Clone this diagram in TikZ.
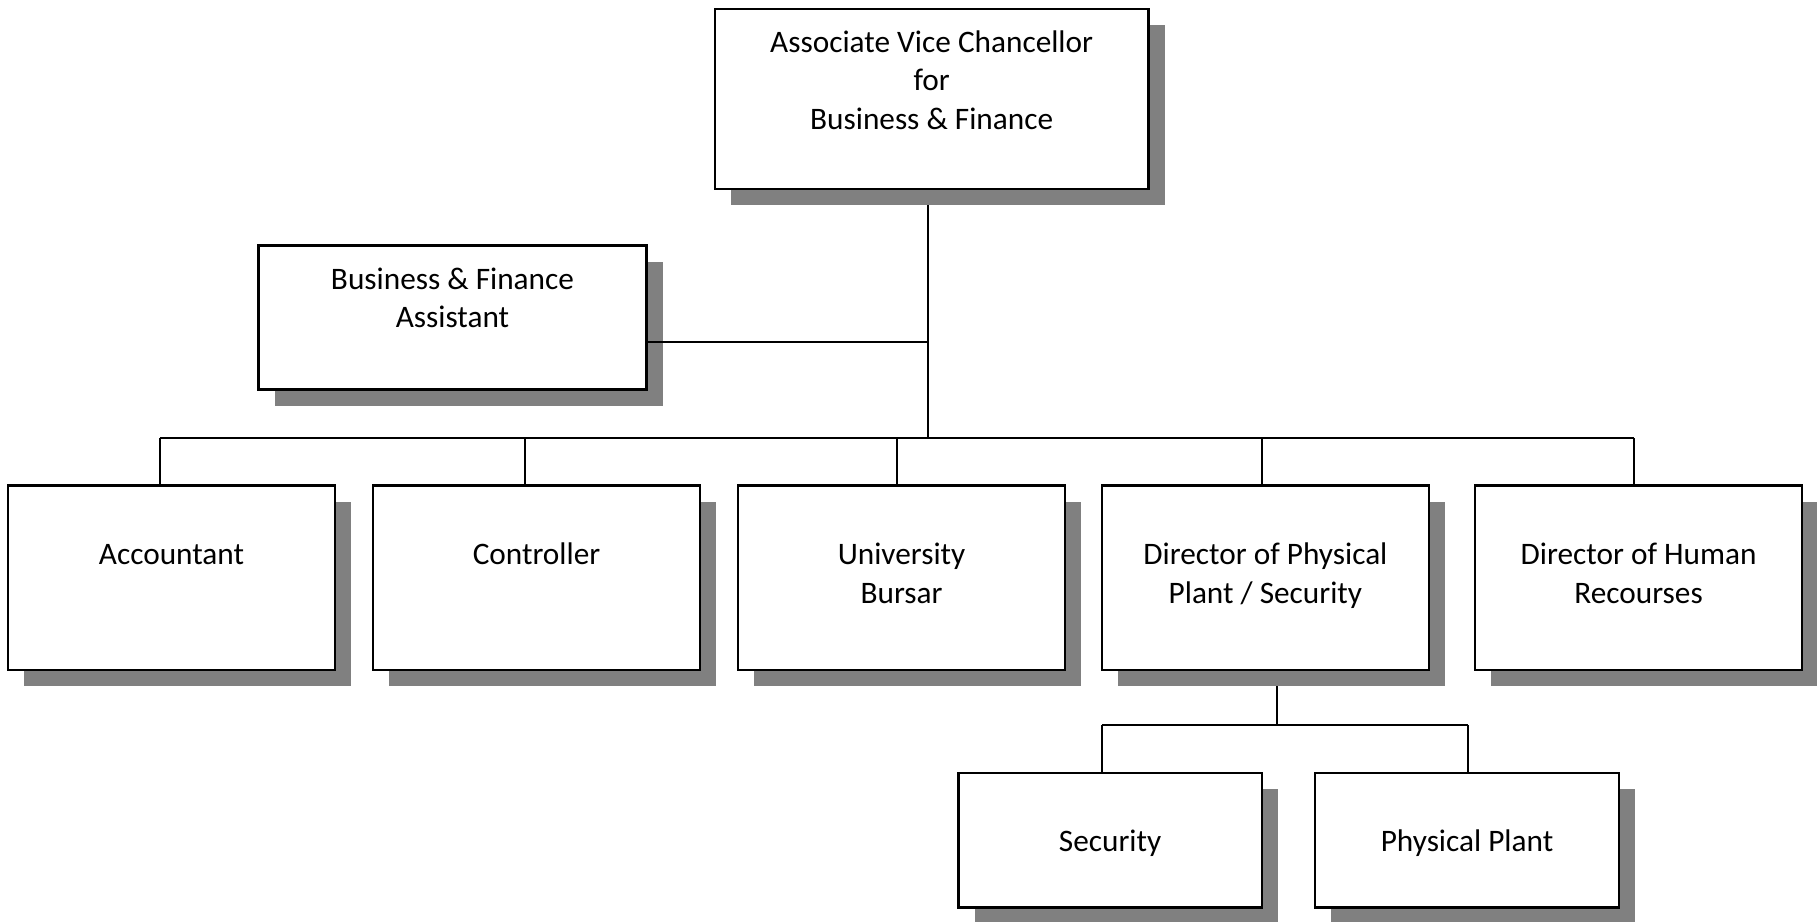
\documentclass[tikz,border=0pt]{standalone}
\usepackage{fontspec}
\setmainfont{Carlito}
\usetikzlibrary{shadows,calc}
\definecolor{shadowgray}{HTML}{808080}
\tikzset{
  box/.style={draw=black, line width=1pt, fill=white, inner sep=0pt,
    drop shadow={opacity=1, fill=shadowgray, shadow xshift=7pt, shadow yshift=-7pt}},
  txt/.style={align=center, inner sep=0pt, anchor=north,
    font=\fontsize{13.5}{16.5}\selectfont},
  conn/.style={draw=black, line width=0.8pt}
}
\begin{document}
\begin{tikzpicture}[x=0.5pt, y=-0.5pt]
\useasboundingbox (0,0) rectangle (1568,795);
\coordinate (vtop) at (801,165);
\coordinate (vmid) at (801,295);
\coordinate (busC) at (801,378);
\coordinate (busL) at (138,378);
\coordinate (busR) at (1410,378);
\coordinate (subT) at (1102,580);
\coordinate (subC) at (1102,626);
\coordinate (subL) at (951,626);
\coordinate (subR) at (1267,626);
% connectors drawn first (shadows cover their ends)
\draw[conn] (vtop) -- (busC);
\draw[conn] (busL) -- (busR);
\draw[conn] (subT) -- (subC);
\draw[conn] (subL) -- (subR);
% boxes
\node[box, minimum width=187pt, minimum height=77.5pt] (avc) at (804,85.5) {};
\node[box, minimum width=167.5pt, minimum height=62pt] (asst) at (390.5,274) {};
\node[box, minimum width=141pt, minimum height=79.5pt] (acc) at (148,498.5) {};
\node[box, minimum width=141pt, minimum height=79.5pt] (ctl) at (463,498.5) {};
\node[box, minimum width=141pt, minimum height=79.5pt] (bur) at (778,498.5) {};
\node[box, minimum width=141pt, minimum height=79.5pt] (dpp) at (1092,498.5) {};
\node[box, minimum width=141pt, minimum height=79.5pt] (dhr) at (1414,498.5) {};
\node[box, minimum width=131pt, minimum height=58pt] (sec) at (958,725) {};
\node[box, minimum width=131pt, minimum height=58pt] (pp) at (1266,725) {};
% connector lines to boxes
\draw[conn] (asst.east |- vmid) -- (vmid);
\draw[conn] (busL) -- (acc.north -| busL);
\draw[conn] ($(ctl.north)+(-10,0)$) coordinate (c2) -- (c2 |- busC);
\draw[conn] ($(bur.north)+(-4,0)$) coordinate (c3) -- (c3 |- busC);
\draw[conn] ($(dpp.north)+(-3,0)$) coordinate (c4) -- (c4 |- busC);
\draw[conn] (busR) -- (dhr.north -| busR);
\draw[conn] (subL) -- (sec.north -| subL);
\draw[conn] (subR) -- (pp.north -| subR);
% texts
\node[txt] (tavc) at ($(avc.north)+(0,15)$) {\strut Associate Vice Chancellor\\for\\Business \& Finance};
\node[txt] (tasst) at ($(asst.north)+(0,15)$) {\strut Business \& Finance\\Assistant};
\node[txt] (tacc) at ($(acc.north)+(0,46)$) {\strut Accountant};
\node[txt] (tctl) at ($(ctl.north)+(0,46)$) {\strut Controller};
\node[txt] (tbur) at ($(bur.north)+(0,46)$) {\strut University\\Bursar};
\node[txt] (tdpp) at ($(dpp.north)+(0,46)$) {\strut Director of Physical\\Plant / Security};
\node[txt] (tdhr) at ($(dhr.north)+(0,46)$) {\strut Director of Human\\Recourses};
\node[txt] (tsec) at ($(sec.north)+(0,45)$) {\strut Security};
\node[txt] (tpp) at ($(pp.north)+(0,45)$) {\strut Physical Plant};
\end{tikzpicture}
\end{document}
